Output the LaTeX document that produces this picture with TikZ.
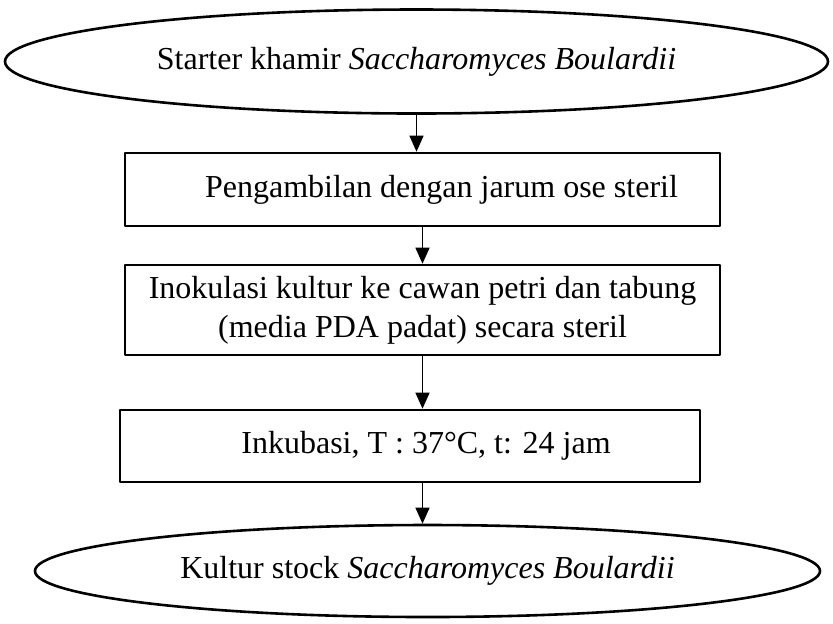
\documentclass[tikz,border=0pt]{standalone}
\usepackage{fontspec}
\setmainfont{Liberation Serif}
\usetikzlibrary{shapes.geometric,arrows.meta}

\begin{document}
\begin{tikzpicture}[x=0.5pt,y=-0.5pt,line cap=round,line join=round]
  \tikzset{
    stage/.style={draw=black,line width=1.3pt,rectangle,align=center,
      inner sep=0pt,font=\fontsize{16}{19.5}\selectfont},
    terminal/.style={draw=black,line width=1.3pt,ellipse,inner sep=0pt,
      font=\fontsize{16}{19.5}\selectfont},
    flow/.style={draw=black,line width=0.6pt,-{Triangle[width=7pt,length=8pt]}}
  }
  \useasboundingbox (0,0) rectangle (833,623);
  % Steps from the starter culture down to the stock culture.
  \node[terminal,minimum width=411.5pt,minimum height=52pt] (starter) at (416.5,61.5)
    {Starter khamir \textit{Saccharomyces Boulardii}};
  \node[stage,minimum width=297.5pt,minimum height=36.5pt] (ambil) at (422.5,189.5)
    {\hspace*{19pt}Pengambilan dengan jarum ose steril};
  \node[stage,minimum width=297.5pt,minimum height=45pt] (inokulasi) at (422.5,310)
    {Inokulasi kultur ke cawan petri dan tabung\\(media PDA padat) secara steril};
  \node[stage,minimum width=290pt,minimum height=36pt] (inkubasi) at (410,446)
    {\hspace*{16pt}Inkubasi, T : 37°C, t: 24 jam};
  \node[terminal,minimum width=392.5pt,minimum height=46pt] (stock) at (427.5,571)
    {Kultur stock \textit{Saccharomyces Boulardii}};
  \draw[flow] (starter.south) -- (starter.south |- ambil.north);
  \draw[flow] (ambil.south) -- (inokulasi.north);
  \draw[flow] (inokulasi.south) -- (inkubasi.north -| inokulasi.south);
  \draw[flow] (inkubasi.south -| inokulasi.south) -- (inokulasi.south |- stock.north);
\end{tikzpicture}
\end{document}
